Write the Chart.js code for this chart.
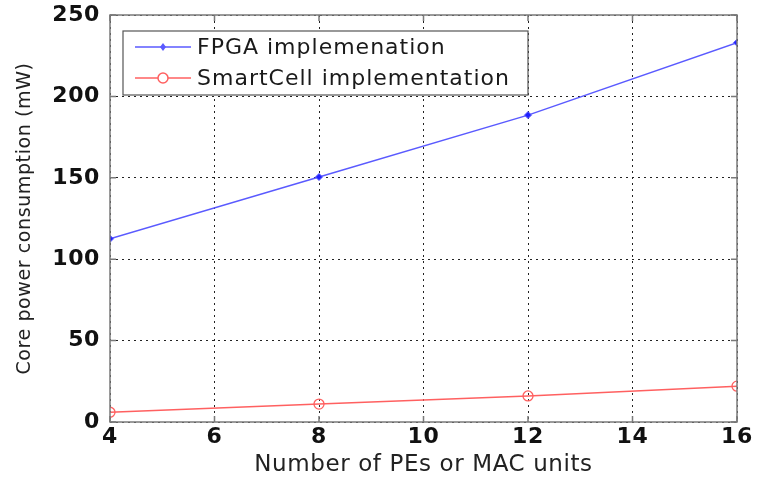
<!DOCTYPE html>
<html>
<head>
<meta charset="utf-8">
<script src="https://cdn.jsdelivr.net/npm/chart.js@4/dist/chart.umd.min.js"></script>
<style>
  html, body { margin: 0; padding: 0; background: #fff; }
  #wrap { width: 766px; height: 481px; }
</style>
</head>
<body>
<div id="wrap"><canvas id="powerChart" width="766" height="481"></canvas></div>
<script>
// chart data
const peCounts = [4, 8, 12, 16];
const fpgaPower = [112.5, 150.5, 188.5, 233];
const smartCellPower = [6, 11, 16, 22];
const xTicks = [4, 6, 8, 10, 12, 14, 16];
const yTicks = [0, 50, 100, 150, 200, 250];
const seriesNames = ['FPGA implemenation', 'SmartCell implementation'];

const FONT = "'DejaVu Sans', Verdana, sans-serif";

// MATLAB-like frame, inner ticks and an inset legend
const matlabFrame = {
    id: 'matlabFrame',
    beforeDraw(chart) {
        // the original figure is a bit wide, spread the letters a little
        chart.ctx.letterSpacing = '0.6px';
    },
    afterDraw(chart) {
        const { ctx, chartArea: a, scales } = chart;
        ctx.save();
        ctx.strokeStyle = '#7a7a7a';
        ctx.lineWidth = 1.5;
        ctx.strokeRect(a.left, a.top, a.right - a.left, a.bottom - a.top);

        // small inner ticks on all four sides
        ctx.beginPath();
        xTicks.forEach(v => {
            const x = scales.x.getPixelForValue(v);
            ctx.moveTo(x, a.bottom); ctx.lineTo(x, a.bottom - 6);
            ctx.moveTo(x, a.top); ctx.lineTo(x, a.top + 6);
        });
        yTicks.forEach(v => {
            const y = scales.y.getPixelForValue(v);
            ctx.moveTo(a.left, y); ctx.lineTo(a.left + 6, y);
            ctx.moveTo(a.right, y); ctx.lineTo(a.right - 6, y);
        });
        ctx.stroke();

        // legend box
        const bx = 123, by = 31, bw = 405, bh = 64;
        ctx.fillStyle = '#fff';
        ctx.fillRect(bx, by, bw, bh);
        ctx.strokeStyle = '#555';
        ctx.lineWidth = 1.2;
        ctx.strokeRect(bx, by, bw, bh);

        chart.data.datasets.forEach((ds, i) => {
            const y = by + 16 + i * 31;
            ctx.strokeStyle = ds.borderColor;
            ctx.lineWidth = 1.5;
            ctx.beginPath();
            ctx.moveTo(135, y); ctx.lineTo(191, y);
            ctx.stroke();
            if (ds.pointStyle === 'circle') {
                ctx.beginPath();
                ctx.arc(163, y, ds.pointRadius, 0, Math.PI * 2);
                ctx.fillStyle = '#fff';
                ctx.fill();
                ctx.stroke();
            } else {
                ctx.fillStyle = ds.borderColor;
                ctx.beginPath();
                ctx.moveTo(163, y - 4); ctx.lineTo(166, y); ctx.lineTo(163, y + 4); ctx.lineTo(160, y);
                ctx.closePath();
                ctx.fill();
            }
            ctx.fillStyle = '#1a1a1a';
            ctx.font = '22px ' + FONT;
            ctx.letterSpacing = '1px';
            ctx.textBaseline = 'middle';
            ctx.textAlign = 'left';
            ctx.fillText(ds.label, 197, y + 1);
        });
        ctx.restore();
    }
};

const gridStyle = {
    color: '#222',
    lineWidth: 1,
    drawTicks: false
};

new Chart(document.getElementById('powerChart'), {
    type: 'line',
    data: {
        datasets: [
            {
                label: seriesNames[0],
                data: peCounts.map((x, i) => ({ x, y: fpgaPower[i] })),
                borderColor: '#5a5aff',
                backgroundColor: '#2020ff',
                borderWidth: 1.5,
                pointStyle: 'rectRot',
                pointRadius: 3.5,
                pointBorderWidth: 1,
                tension: 0
            },
            {
                label: seriesNames[1],
                data: peCounts.map((x, i) => ({ x, y: smartCellPower[i] })),
                borderColor: '#ff6060',
                backgroundColor: 'rgba(255,255,255,0)',
                borderWidth: 1.5,
                pointStyle: 'circle',
                pointRadius: 5,
                pointBorderWidth: 1.3,
                tension: 0
            }
        ]
    },
    options: {
        responsive: false,
        animation: false,
        layout: { padding: { left: 0, right: 29, top: 15, bottom: 0 } },
        plugins: {
            legend: { display: false },
            tooltip: { enabled: false }
        },
        scales: {
            x: {
                type: 'linear',
                min: 4,
                max: 16,
                afterBuildTicks: scale => { scale.ticks = xTicks.map(v => ({ value: v })); },
                afterFit: scale => {
                    scale.height = 59;
                    scale.paddingLeft = 0;
                    scale.paddingRight = 0;
                },
                grid: gridStyle,
                border: { display: false, dash: [2, 4] },
                ticks: {
                    color: '#111',
                    padding: 2,
                    font: { family: FONT, size: 22, weight: 'bold' },
                    maxRotation: 0
                },
                title: {
                    display: true,
                    text: 'Number of PEs or MAC units',
                    color: '#222',
                    padding: { top: 0, bottom: 2 },
                    font: { family: FONT, size: 23 }
                }
            },
            y: {
                min: 0,
                max: 250,
                afterBuildTicks: scale => { scale.ticks = yTicks.map(v => ({ value: v })); },
                afterFit: scale => {
                    scale.width = 110;
                    scale.paddingTop = 0;
                    scale.paddingBottom = 0;
                },
                grid: gridStyle,
                border: { display: false, dash: [2, 4] },
                ticks: {
                    color: '#111',
                    padding: 10,
                    font: { family: FONT, size: 22, weight: 'bold' }
                },
                title: {
                    display: true,
                    text: 'Core power consumption (mW)',
                    color: '#222',
                    padding: { top: 14, bottom: 0 },
                    font: { family: FONT, size: 19 }
                }
            }
        }
    },
    plugins: [matlabFrame]
});
</script>
</body>
</html>
